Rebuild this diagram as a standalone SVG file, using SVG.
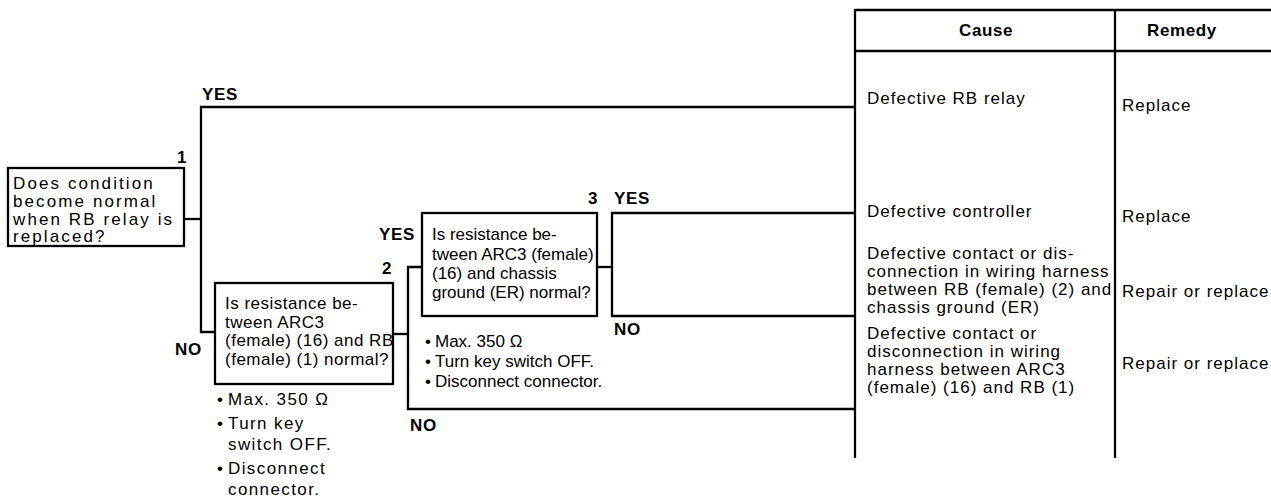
<svg xmlns="http://www.w3.org/2000/svg" width="1271" height="504" viewBox="0 0 1271 504">
<style>
.bg{fill:#fff}
.box{fill:#fff;stroke:#000;stroke-width:2.3}
.ln{fill:none;stroke:#000;stroke-width:2.3}
text{font-family:"Liberation Sans",Arial,sans-serif;font-size:17px;fill:#000}
.b{font-weight:bold;letter-spacing:0.6px}
.t1{letter-spacing:2.1px}
.t2{letter-spacing:0.5px}
.t3{letter-spacing:0px}
.tb{letter-spacing:1px}
.bl2{letter-spacing:1.4px}
.bl3{letter-spacing:0px}
</style>
<rect class="bg" x="0" y="0" width="1271" height="504"/>
<g id="table">
<line class="ln" x1="855" y1="10" x2="1271" y2="10"/>
<line class="ln" x1="855" y1="51" x2="1271" y2="51"/>
<line class="ln" x1="855" y1="9" x2="855" y2="458"/>
<line class="ln" x1="1115" y1="9" x2="1115" y2="458"/>
<text class="b" x="959" y="36">Cause</text>
<text class="b" x="1147" y="36">Remedy</text>
</g>
<g id="connectors">
<polyline class="ln" points="184,219 201,219"/>
<polyline class="ln" points="855,107 201,107 201,332 215,332"/>
<polyline class="ln" points="393,334 408,334"/>
<polyline class="ln" points="422,267 408,267 408,409 855,409"/>
<polyline class="ln" points="597,267 612,267"/>
<polyline class="ln" points="855,213 612,213 612,316 855,316"/>
<text class="b" x="202" y="100">YES</text>
<text class="b" x="175" y="355">NO</text>
<text class="b" x="379" y="240">YES</text>
<text class="b" x="614" y="204">YES</text>
<text class="b" x="614" y="335">NO</text>
<text class="b" x="410" y="431">NO</text>
</g>
<g id="node1">
<rect class="box" x="8" y="168" width="176" height="78"/>
<text class="b" x="177" y="163">1</text>
<text class="t1" x="13" y="189">Does condition</text>
<text class="t1" x="13" y="207">become normal</text>
<text class="t1" x="13" y="225">when RB relay is</text>
<text class="t1" x="13" y="242">replaced?</text>
</g>
<g id="node2">
<rect class="box" x="215" y="283" width="178" height="101"/>
<text class="b" x="382" y="274">2</text>
<text class="t2" x="225" y="309">Is resistance be-</text>
<text class="t2" x="225" y="328">tween ARC3</text>
<text class="t2" x="225" y="346">(female) (16) and RB</text>
<text class="t2" x="225" y="365">(female) (1) normal?</text>
<text class="bl2" x="217" y="405">•</text>
<text class="bl2" x="228" y="405">Max. 350 Ω</text>
<text class="bl2" x="217" y="429">•</text>
<text class="bl2" x="228" y="429">Turn key</text>
<text class="bl2" x="228" y="450">switch OFF.</text>
<text class="bl2" x="217" y="474">•</text>
<text class="bl2" x="228" y="474">Disconnect</text>
<text class="bl2" x="228" y="495">connector.</text>
</g>
<g id="node3">
<rect class="box" x="422" y="213" width="175" height="103"/>
<text class="b" x="588" y="204">3</text>
<text class="t3" x="432" y="240">Is resistance be-</text>
<text class="t3" x="432" y="260">tween ARC3 (female)</text>
<text class="t3" x="432" y="279">(16) and chassis</text>
<text class="t3" x="432" y="298">ground (ER) normal?</text>
<text class="bl3" x="425" y="347">•</text>
<text class="bl3" x="435" y="347">Max. 350 Ω</text>
<text class="bl3" x="425" y="367">•</text>
<text class="bl3" x="435" y="367">Turn key switch OFF.</text>
<text class="bl3" x="425" y="387">•</text>
<text class="bl3" x="435" y="387">Disconnect connector.</text>
</g>
<g id="result1">
<text class="tb" x="867" y="104">Defective RB relay</text>
<text class="tb" x="1122" y="111">Replace</text>
</g>
<g id="result2">
<text class="tb" x="867" y="217">Defective controller</text>
<text class="tb" x="1122" y="222">Replace</text>
</g>
<g id="result3">
<text class="tb" x="867" y="259">Defective contact or dis-</text>
<text class="tb" x="867" y="277">connection in wiring harness</text>
<text class="tb" x="867" y="295">between RB (female) (2) and</text>
<text class="tb" x="867" y="313">chassis ground (ER)</text>
<text class="tb" x="1122" y="297">Repair or replace</text>
</g>
<g id="result4">
<text class="tb" x="867" y="339">Defective contact or</text>
<text class="tb" x="867" y="357">disconnection in wiring</text>
<text class="tb" x="867" y="375">harness between ARC3</text>
<text class="tb" x="867" y="393">(female) (16) and RB (1)</text>
<text class="tb" x="1122" y="369">Repair or replace</text>
</g>
</svg>
